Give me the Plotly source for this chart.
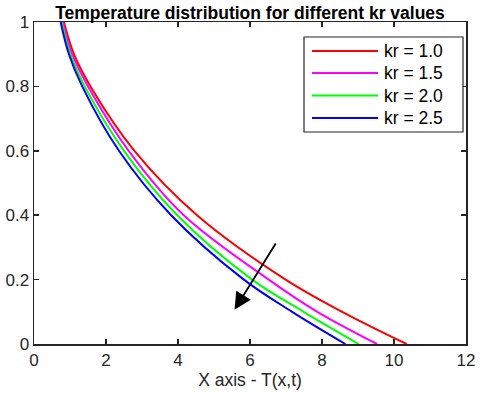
import plotly.graph_objects as go

# y levels (T values) and x positions
y_levels = [1.0, 0.9, 0.8, 0.6, 0.4, 0.2, 0.1, 0.0]
x_kr10 = [0.83, 1.11, 1.57, 2.79, 4.53, 6.99, 8.56, 10.35]
x_kr15 = [0.80, 1.06, 1.50, 2.63, 4.16, 6.52, 7.87, 9.53]
x_kr20 = [0.77, 1.01, 1.41, 2.50, 3.98, 6.06, 7.49, 9.02]
x_kr25 = [0.74, 0.97, 1.34, 2.36, 3.81, 5.83, 7.17, 8.65]

series_names = ["kr = 1.0", "kr = 1.5", "kr = 2.0", "kr = 2.5"]
series_x = [x_kr10, x_kr15, x_kr20, x_kr25]
colors = ["#ff0000", "#ff00ff", "#00ff00", "#0000ff"]

x_ticks = [0, 2, 4, 6, 8, 10, 12]
y_ticks = [0, 0.2, 0.4, 0.6, 0.8, 1]

# arrow (tail -> head) in data units
arrow_tail = (6.74, 0.317)
arrow_head = (5.57, 0.106)

FONT = "Liberation Sans, Arial, sans-serif"
W, H = 480, 394
ML, MR, MT, MB = 34, 14, 22, 50
PW, PH = W - ML - MR, H - MT - MB


def px2paper(px, py):
    return (px - ML) / PW, (H - MB - py) / PH


fig = go.Figure()
for name, xs, c in zip(series_names, series_x, colors):
    fig.add_trace(go.Scatter(
        x=xs, y=y_levels, mode="lines", name=name, showlegend=False,
        line=dict(color=c, width=2, shape="spline", smoothing=1.0),
    ))

fig.add_annotation(
    x=arrow_head[0], y=arrow_head[1], ax=arrow_tail[0], ay=arrow_tail[1],
    xref="x", yref="y", axref="x", ayref="y",
    showarrow=True, arrowhead=2, arrowsize=1.9, arrowwidth=1.8,
    arrowcolor="black", text="",
)

# legend box drawn in paper space
bx0, by0 = px2paper(304, 132)
bx1, by1 = px2paper(463, 37)
fig.add_shape(type="rect", xref="paper", yref="paper", x0=bx0, y0=by0, x1=bx1, y1=by1,
              line=dict(color="#262626", width=1.2), fillcolor="white", layer="above")
row_y = [51, 73, 95.5, 118]
for name, c, ry in zip(series_names, colors, row_y):
    lx0, ly = px2paper(312, ry)
    lx1, _ = px2paper(378, ry)
    fig.add_shape(type="line", xref="paper", yref="paper", x0=lx0, x1=lx1, y0=ly, y1=ly,
                  line=dict(color=c, width=2), layer="above")
    tx, _ = px2paper(382, ry)
    fig.add_annotation(x=tx, y=ly, xref="paper", yref="paper", text=name,
                       showarrow=False, xanchor="left", yanchor="middle",
                       font=dict(family=FONT, size=17.5, color="black"))

axis_common = dict(
    showgrid=False, zeroline=False, showline=True, mirror="ticks",
    linecolor="#262626", linewidth=1.5, ticks="inside", ticklen=5,
    tickcolor="#262626", tickwidth=1.5, automargin=False,
    tickfont=dict(family=FONT, size=17, color="#262626"),
)

fig.update_layout(
    width=W, height=H,
    margin=dict(l=ML, r=MR, t=MT, b=MB),
    paper_bgcolor="white", plot_bgcolor="white",
    title=dict(
        text="<b>Temperature distribution for different kr values</b>",
        x=(250) / W, xanchor="center", xref="container",
        y=1 - 13 / H, yanchor="middle", yref="container",
        font=dict(family=FONT, size=17.5, color="black"), automargin=False,
    ),
    xaxis=dict(range=[0, 12], tickvals=x_ticks,
               title=dict(text="X axis - T(x,t)", standoff=4,
                          font=dict(family=FONT, size=17.5, color="#262626")),
               **axis_common),
    yaxis=dict(range=[0, 1], tickvals=y_ticks,
               ticktext=["0", "0.2", "0.4", "0.6", "0.8", "1"],
               **axis_common),
    showlegend=False,
)

fig.write_html(
    "out.html",
    config={"displayModeBar": False, "staticPlot": True},
    post_script="document.body.style.margin='0';document.body.style.overflow='hidden';",
)
